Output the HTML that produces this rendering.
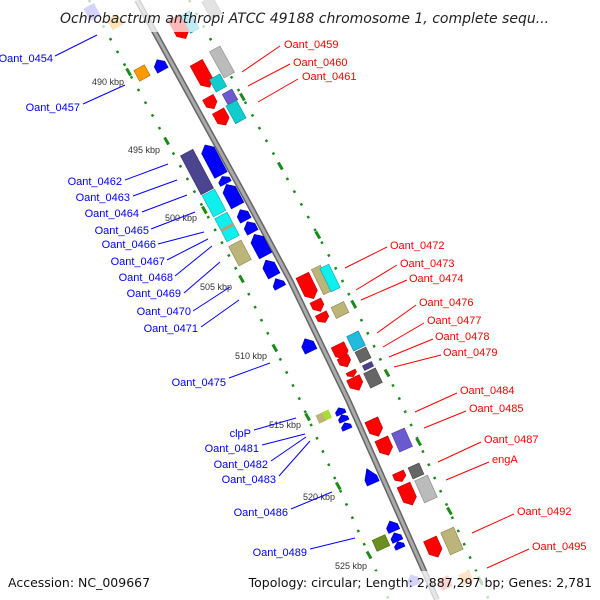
<!DOCTYPE html>
<html><head><meta charset="utf-8"><style>
html,body{margin:0;padding:0;background:#fff;}
svg{display:block;}
.l{font-family:"Liberation Sans",sans-serif;font-size:11px;}
.k{font-family:"Liberation Sans",sans-serif;font-size:9px;fill:#333;}
</style></head><body>
<svg width="600" height="600" viewBox="0 0 600 600" xmlns="http://www.w3.org/2000/svg">
<!-- tracks -->
<g fill="none" stroke="#1a8a1a" stroke-width="2.5" stroke-dasharray="2.5 12">
<polyline points="89,0 199,200 242,280 300,400 389,600"/>
<polyline points="189,0 299,200 342,280 400,400 489,600"/>
</g>
<g stroke="#1a8a1a" stroke-width="3">
<line x1="126.6" y1="68.5" x2="130.6" y2="75.5"/>
<line x1="164.6" y1="137.5" x2="168.6" y2="144.5"/>
<line x1="202.4" y1="206.5" x2="206.4" y2="213.5"/>
<line x1="239.5" y1="275.5" x2="243.5" y2="282.5"/>
<line x1="272.8" y1="344.5" x2="276.8" y2="351.5"/>
<line x1="305.6" y1="413.5" x2="309.6" y2="420.5"/>
<line x1="336.3" y1="482.5" x2="340.3" y2="489.5"/>
<line x1="367" y1="551.5" x2="371" y2="558.5"/>
<line x1="240.4" y1="93.5" x2="244.4" y2="100.5"/>
<line x1="278.3" y1="162.5" x2="282.3" y2="169.5"/>
<line x1="315.8" y1="231.5" x2="319.8" y2="238.5"/>
<line x1="351.6" y1="300.5" x2="355.6" y2="307.5"/>
<line x1="385" y1="369.5" x2="389" y2="376.5"/>
<line x1="416.7" y1="438.5" x2="420.7" y2="445.5"/>
<line x1="447.4" y1="507.5" x2="451.4" y2="514.5"/>
<line x1="478.1" y1="576.5" x2="482.1" y2="583.5"/>
</g>
<!-- backbone -->
<polyline points="137,0 247,200 290,280 348,400 437,600" fill="none" stroke="#666" stroke-width="6"/>
<polyline points="137,0 247,200 290,280 348,400 437,600" fill="none" stroke="#aaa" stroke-width="3"/>

<!-- kbp labels -->
<text class="k" x="92" y="85">490 kbp</text>
<text class="k" x="128" y="153">495 kbp</text>
<text class="k" x="165" y="221">500 kbp</text>
<text class="k" x="200" y="290">505 kbp</text>
<text class="k" x="235" y="359">510 kbp</text>
<text class="k" x="269" y="428">515 kbp</text>
<text class="k" x="303" y="500">520 kbp</text>
<text class="k" x="335" y="569">525 kbp</text>

<!-- genes top -->
<g stroke-width="0.6">
<g transform="translate(180,28) rotate(-29)" fill="#f00" stroke="#b00"><polygon points="-7,-12 7,-12 7,6 0,12 -7,6"/></g>
<g transform="translate(190,22) rotate(-29)" fill="#2bd" stroke="#188"><rect x="-5" y="-10" width="10" height="20"/></g>
<g transform="translate(212,8) rotate(-29)" fill="#999" stroke="#666"><rect x="-6" y="-10" width="12" height="20"/></g>
<g transform="translate(92,12) rotate(-29)" fill="#66f"><rect x="-6" y="-7" width="12" height="14"/></g>
<g transform="translate(115,22) rotate(-29)" fill="#f90"><rect x="-6" y="-6" width="12" height="12"/></g>

<g transform="translate(203,75) rotate(-29)" fill="#f00" stroke="#b00"><polygon points="-7,-14 7,-14 7,8 0,14 -7,8"/></g>
<g transform="translate(222,62) rotate(-29)" fill="#bbb" stroke="#888"><rect x="-6" y="-15" width="12" height="30"/></g>
<g transform="translate(218,83) rotate(-29)" fill="#1cc" stroke="#099"><rect x="-6" y="-7" width="12" height="14"/></g>
<g transform="translate(211,103) rotate(-29)" fill="#f00" stroke="#b00"><polygon points="-6,-6.5 6,-6.5 6,1.5 0,6.5 -6,1.5"/></g>
<g transform="translate(230,97) rotate(-29)" fill="#6a5acd" stroke="#4a3a9d"><rect x="-5.5" y="-6" width="11" height="12"/></g>
<g transform="translate(222,118) rotate(-29)" fill="#f00" stroke="#b00"><polygon points="-6.5,-8 6.5,-8 6.5,3 0,8 -6.5,3"/></g>
<g transform="translate(236,112) rotate(-29)" fill="#1cc" stroke="#099"><rect x="-6" y="-10" width="12" height="20"/></g>
<g transform="translate(142,73) rotate(-29)" fill="#f90" stroke="#b60"><rect x="-6" y="-6" width="12" height="12"/></g>
<g transform="translate(160,65) rotate(-29)" fill="#00f" stroke="#00a"><polygon points="-6,6 6,6 6,-1 0,-6 -6,-1"/></g>

<!-- mid -->
<g transform="translate(197,172) rotate(-28)" fill="#4b4590" stroke="#332d70"><rect x="-7" y="-22" width="14" height="44"/></g>
<g transform="translate(214,203) rotate(-28)" fill="#1ee" stroke="#0aa"><rect x="-7" y="-12" width="14" height="24"/></g>
<g transform="translate(227,227) rotate(-28)" fill="#1ee" stroke="#0aa"><rect x="-7" y="-13" width="14" height="26"/><rect x="-7" y="-1" width="14" height="3" fill="#b8a070" stroke="none"/></g>
<g transform="translate(240,253) rotate(-28)" fill="#bdb47a" stroke="#8d8450"><rect x="-7" y="-11" width="14" height="22"/></g>
<g fill="#00f" stroke="#00a">
<g transform="translate(213,160) rotate(-28)"><polygon points="-7,17 7,17 7,-11 0,-17 -7,-11"/></g>
<g transform="translate(224,180) rotate(-28)"><polygon points="-6,4 6,4 6,0 0,-4 -6,0"/></g>
<g transform="translate(232,195) rotate(-28)"><polygon points="-7,12 7,12 7,-6 0,-12 -7,-6"/></g>
<g transform="translate(243,215) rotate(-28)"><polygon points="-6,6 6,6 6,-1 0,-6 -6,-1"/></g>
<g transform="translate(250,227) rotate(-28)"><polygon points="-6,6 6,6 6,-1 0,-6 -6,-1"/></g>
<g transform="translate(260,245) rotate(-28)"><polygon points="-7,12 7,12 7,-6 0,-12 -7,-6"/></g>
<g transform="translate(270,268) rotate(-28)"><polygon points="-6.5,9 6.5,9 6.5,-3 0,-9 -6.5,-3"/></g>
<g transform="translate(278,283) rotate(-28)"><polygon points="-6,5 6,5 6,1 0,-5 -6,1"/></g>
<g transform="translate(308,345) rotate(-26)"><polygon points="-6.5,7 6.5,7 6.5,-1 0,-7 -6.5,-1"/></g>
</g>

<!-- zoom2 region -->
<g fill="#f00" stroke="#b00">
<g transform="translate(308,287) rotate(-26)"><polygon points="-7,-13 7,-13 7,7 0,13 -7,7"/></g>
<g transform="translate(318,306) rotate(-26)"><polygon points="-6,-6 6,-6 6,1 0,6 -6,1"/></g>
<g transform="translate(323,318) rotate(-26)"><polygon points="-6,-5 6,-5 6,1 0,5 -6,1"/></g>
<g transform="translate(341,352) rotate(-26)"><polygon points="-7,-8 7,-8 7,2 0,8 -7,2"/></g>
<g transform="translate(345,362) rotate(-26)"><polygon points="-6,-5.5 6,-5.5 6,0.5 0,5.5 -6,0.5"/></g>
<g transform="translate(352,374) rotate(-26)"><polygon points="-5,-3 5,-3 5,0 0,3 -5,0"/></g>
<g transform="translate(356,384) rotate(-26)"><polygon points="-7,-7 7,-7 7,1 0,7 -7,1"/></g>
<g transform="translate(375,428) rotate(-24)"><polygon points="-7,-9 7,-9 7,3 0,9 -7,3"/></g>
<g transform="translate(385,447) rotate(-24)"><polygon points="-7,-9 7,-9 7,3 0,9 -7,3"/></g>
<g transform="translate(400,477) rotate(-24)"><polygon points="-6,-5 6,-5 6,1 0,5 -6,1"/></g>
<g transform="translate(408,495) rotate(-24)"><polygon points="-7,-11 7,-11 7,5 0,11 -7,5"/></g>
<g transform="translate(434,548) rotate(-24)"><polygon points="-7,-10 7,-10 7,4 0,10 -7,4"/></g>
</g>
<g transform="translate(322,280) rotate(-26)" fill="#bdb47a" stroke="#8d8450"><rect x="-5" y="-14" width="10" height="28"/></g>
<g transform="translate(330,278) rotate(-26)" fill="#1ee" stroke="#0aa"><rect x="-5" y="-13" width="10" height="26"/></g>
<g transform="translate(340,310) rotate(-26)" fill="#bdb47a" stroke="#8d8450"><rect x="-7" y="-6" width="14" height="12"/></g>
<g transform="translate(356,341) rotate(-26)" fill="#2bd" stroke="#189"><rect x="-6.5" y="-8" width="13" height="16"/></g>
<g transform="translate(363,355) rotate(-26)" fill="#666" stroke="#444"><rect x="-6" y="-6" width="12" height="12"/></g>
<g transform="translate(368,366) rotate(-26)" fill="#4b4590" stroke="#332d70"><rect x="-5" y="-2.5" width="10" height="5"/></g>
<g transform="translate(373,378) rotate(-26)" fill="#666" stroke="#444"><rect x="-6.5" y="-8" width="13" height="16"/></g>

<!-- lower -->
<g transform="translate(321,418) rotate(-24)" fill="#bdb47a"><rect x="-4" y="-4.5" width="8" height="9"/></g>
<g transform="translate(327,415) rotate(-24)" fill="#ad3"><rect x="-3.5" y="-4.5" width="7" height="9"/></g>
<g fill="#00f" stroke="#00a">
<g transform="translate(340,411) rotate(-24)"><polygon points="-5,3.5 5,3.5 5,0 0,-3.5 -5,0"/></g>
<g transform="translate(343,418) rotate(-24)"><polygon points="-5,3.5 5,3.5 5,0 0,-3.5 -5,0"/></g>
<g transform="translate(346,426) rotate(-24)"><polygon points="-5,3.5 5,3.5 5,0 0,-3.5 -5,0"/></g>
<g transform="translate(370,476) rotate(-24)"><polygon points="-6.5,8 6.5,8 6.5,2 0,-8 -6.5,2"/></g>
<g transform="translate(392,526) rotate(-24)"><polygon points="-6,5.5 6,5.5 6,0 0,-5.5 -6,0"/></g>
<g transform="translate(396,537) rotate(-24)"><polygon points="-5.5,4.5 5.5,4.5 5.5,0 0,-4.5 -5.5,0"/></g>
<g transform="translate(399,545) rotate(-24)"><polygon points="-5,3.5 5,3.5 5,0 0,-3.5 -5,0"/></g>
</g>
<g transform="translate(402,440) rotate(-24)" fill="#6a5acd" stroke="#4a3a9d"><rect x="-7" y="-10" width="14" height="20"/></g>
<g transform="translate(416,471) rotate(-24)" fill="#666" stroke="#444"><rect x="-6" y="-6" width="12" height="12"/></g>
<g transform="translate(426,489) rotate(-24)" fill="#bbb" stroke="#888"><rect x="-7" y="-12" width="14" height="24"/></g>
<g transform="translate(381,543) rotate(-24)" fill="#6b8e23" stroke="#4b6e13"><rect x="-7" y="-6" width="14" height="12"/></g>
<g transform="translate(452,541) rotate(-24)" fill="#bdb47a" stroke="#8d8450"><rect x="-7" y="-12" width="14" height="24"/></g>
<g transform="translate(413,580) rotate(-24)" fill="#66f"><polygon points="-6,6 6,6 6,-1 0,-6 -6,-1"/></g>
<g transform="translate(445,583) rotate(-24)" fill="#f66"><rect x="-6" y="-6" width="12" height="12"/></g>
<g transform="translate(466,578) rotate(-24)" fill="#f93"><rect x="-6" y="-6" width="12" height="12"/></g>
</g>

<!-- red labels -->
<g stroke="#f00" stroke-width="1">
<line x1="280" y1="46" x2="242" y2="72"/>
<line x1="290" y1="64" x2="248" y2="86"/>
<line x1="298" y1="79" x2="258" y2="102"/>
<line x1="387" y1="247" x2="345" y2="268"/>
<line x1="397" y1="265" x2="356" y2="290"/>
<line x1="407" y1="280" x2="361" y2="300"/>
<line x1="416" y1="305" x2="377" y2="333"/>
<line x1="424" y1="323" x2="383" y2="347"/>
<line x1="433" y1="339" x2="389" y2="357"/>
<line x1="441" y1="355" x2="394" y2="367"/>
<line x1="457" y1="393" x2="415" y2="412"/>
<line x1="466" y1="411" x2="424" y2="428"/>
<line x1="481" y1="442" x2="438" y2="462"/>
<line x1="489" y1="462" x2="446" y2="480"/>
<line x1="514" y1="514" x2="472" y2="533"/>
<line x1="529" y1="549" x2="487" y2="568"/>
</g>
<g class="l" fill="#f00">
<text x="284" y="48">Oant_0459</text>
<text x="293" y="66">Oant_0460</text>
<text x="302" y="80">Oant_0461</text>
<text x="390" y="249">Oant_0472</text>
<text x="400" y="267">Oant_0473</text>
<text x="409" y="282">Oant_0474</text>
<text x="419" y="306">Oant_0476</text>
<text x="427" y="324">Oant_0477</text>
<text x="435" y="340">Oant_0478</text>
<text x="443" y="356">Oant_0479</text>
<text x="460" y="394">Oant_0484</text>
<text x="469" y="412">Oant_0485</text>
<text x="484" y="443">Oant_0487</text>
<text x="492" y="463">engA</text>
<text x="517" y="515">Oant_0492</text>
<text x="532" y="550">Oant_0495</text>
</g>

<!-- blue labels -->
<g stroke="#00f" stroke-width="1">
<line x1="55" y1="56" x2="97" y2="35"/>
<line x1="83" y1="104" x2="125" y2="85"/>
<line x1="125" y1="180" x2="168" y2="164"/>
<line x1="133" y1="196" x2="177" y2="180"/>
<line x1="142" y1="212" x2="187" y2="195"/>
<line x1="151" y1="229" x2="195" y2="212"/>
<line x1="158" y1="244" x2="204" y2="232"/>
<line x1="167" y1="260" x2="208" y2="239"/>
<line x1="175" y1="276" x2="212" y2="246"/>
<line x1="184" y1="293" x2="220" y2="262"/>
<line x1="193" y1="311" x2="230" y2="287"/>
<line x1="201" y1="327" x2="239" y2="300"/>
<line x1="229" y1="378" x2="270" y2="363"/>
<line x1="254" y1="430" x2="296" y2="418"/>
<line x1="262" y1="445" x2="305" y2="434"/>
<line x1="271" y1="461" x2="306" y2="437"/>
<line x1="279" y1="476" x2="310" y2="441"/>
<line x1="291" y1="509" x2="332" y2="492"/>
<line x1="310" y1="549" x2="355" y2="538"/>
</g>
<g class="l" fill="#00f" text-anchor="end">
<text x="53" y="62">Oant_0454</text>
<text x="80" y="111">Oant_0457</text>
<text x="122" y="185">Oant_0462</text>
<text x="130" y="201">Oant_0463</text>
<text x="139" y="217">Oant_0464</text>
<text x="149" y="234">Oant_0465</text>
<text x="156" y="248">Oant_0466</text>
<text x="165" y="265">Oant_0467</text>
<text x="173" y="281">Oant_0468</text>
<text x="181" y="297">Oant_0469</text>
<text x="191" y="315">Oant_0470</text>
<text x="198" y="332">Oant_0471</text>
<text x="226" y="386">Oant_0475</text>
<text x="251" y="437">clpP</text>
<text x="259" y="452">Oant_0481</text>
<text x="268" y="468">Oant_0482</text>
<text x="276" y="483">Oant_0483</text>
<text x="288" y="516">Oant_0486</text>
<text x="307" y="556">Oant_0489</text>
</g>

<!-- overlays -->
<rect x="0" y="0" width="600" height="32" fill="#fff" opacity="0.72"/>
<text x="60" y="23" font-family="'DejaVu Sans','Liberation Sans',sans-serif" font-style="italic" font-size="14" fill="#222">Ochrobactrum anthropi ATCC 49188 chromosome 1, complete sequ...</text>
<rect x="0" y="571" width="600" height="29" fill="#fff" opacity="0.72"/>
<text x="8" y="587" font-family="'DejaVu Sans','Liberation Sans',sans-serif" font-size="12.5" fill="#111">Accession: NC_009667</text>
<text x="592" y="587" text-anchor="end" font-family="'DejaVu Sans','Liberation Sans',sans-serif" font-size="12.5" fill="#111">Topology: circular; Length: 2,887,297 bp; Genes: 2,781</text>
</svg>
</body></html>
